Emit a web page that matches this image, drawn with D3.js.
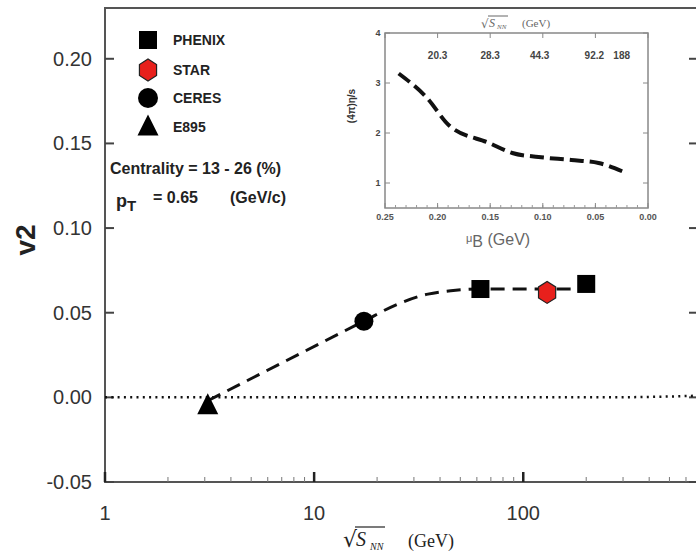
<!DOCTYPE html>
<html>
<head>
	<script src="https://d3js.org/d3.v7.min.js"></script>
	<meta charset="UTF-8">
	<style>
		body{ margin:0; background-color:#ffffff; }
		text{ font-family:"Liberation Sans", Arial, sans-serif; }
	</style>
</head>
<body>
	<script type="text/javascript">
		// main panel data
		var phenix = [[62.4, 0.064], [200, 0.067]];
		var star = [[130, 0.062]];
		var ceres = [[17.3, 0.045]];
		var e895 = [[3.1, -0.005]];
		var fitCurve = [[3.1, -0.002], [17.3, 0.045], [25, 0.055], [35, 0.061], [45, 0.063], [62.4, 0.064], [130, 0.064], [200, 0.064]];
		var zeroLine = [[1, 0], [300, 0], [500, 0.0005], [700, 0.001]];
		var yTicks = [-0.05, 0.00, 0.05, 0.10, 0.15, 0.20];
		var xTicks = [1, 10, 100];

		// inset data
		var etaS = [[0.237, 3.19], [0.210, 2.70], [0.189, 2.15], [0.151, 1.80], [0.129, 1.60], [0.104, 1.52], [0.073, 1.46], [0.047, 1.40], [0.024, 1.23]];
		var insetXTicks = [0.25, 0.20, 0.15, 0.10, 0.05, 0.00];
		var insetYTicks = [1, 2, 3, 4];
		var energyPos = [0.200, 0.150, 0.103, 0.051, 0.025];
		var energyLabels = ["20.3", "28.3", "44.3", "92.2", "188"];

		var legendNames = ["PHENIX", "STAR", "CERES", "E895"];

		var w = 696, h = 556;
		var svg = d3.select("body").append("svg").attr("width", w).attr("height", h);

		var x = d3.scaleLog().domain([1, 700]).range([105, 700]);
		var y = d3.scaleLinear().domain([-0.05, 0.23]).range([482, 8]);

		// frame
		svg.append("rect").attr("x", 105).attr("y", 8).attr("width", 600).attr("height", 474)
			.attr("fill", "none").attr("stroke", "#555").attr("stroke-width", 2);

		// y axis ticks (inward)
		yTicks.forEach(function(t){
			svg.append("line").attr("x1", 105).attr("x2", 114).attr("y1", y(t)).attr("y2", y(t)).attr("stroke", "#444").attr("stroke-width", 2);
			svg.append("line").attr("x1", 689).attr("x2", 700).attr("y1", y(t)).attr("y2", y(t)).attr("stroke", "#444").attr("stroke-width", 2);
			svg.append("text").attr("x", 92).attr("y", y(t) + 7).attr("text-anchor", "end").style("font-size", "20px").attr("fill", "#333").text(t.toFixed(2));
		});

		// x axis ticks
		var minor = [];
		[1, 10, 100].forEach(function(dec){ for(var k = 2; k <= 9; k++){ if(dec * k < 700) minor.push(dec * k); } });
		minor.forEach(function(t){
			svg.append("line").attr("x1", x(t)).attr("x2", x(t)).attr("y1", 482).attr("y2", 477).attr("stroke", "#777").attr("stroke-width", 1);
		});
		xTicks.forEach(function(t){
			svg.append("line").attr("x1", x(t)).attr("x2", x(t)).attr("y1", 482).attr("y2", 472).attr("stroke", "#222").attr("stroke-width", 2.5);
			svg.append("text").attr("x", x(t)).attr("y", 520).attr("text-anchor", "middle").style("font-size", "20px").attr("fill", "#333").text(t);
		});

		// zero dotted line
		var line = d3.line().x(function(d){ return x(d[0]); }).y(function(d){ return y(d[1]); });
		svg.append("path").attr("d", line(zeroLine)).attr("fill", "none").attr("stroke", "#111").attr("stroke-width", 2.5).attr("stroke-dasharray", "2,4.3");

		// dashed fit
		var curve = d3.line().curve(d3.curveMonotoneX).x(function(d){ return x(d[0]); }).y(function(d){ return y(d[1]); });
		svg.append("path").attr("d", curve(fitCurve)).attr("fill", "none").attr("stroke", "#111").attr("stroke-width", 3).attr("stroke-dasharray", "14,8");

		// markers
		function square(g, cx, cy, s){ g.append("rect").attr("x", cx - s/2).attr("y", cy - s/2).attr("width", s).attr("height", s).attr("fill", "#000"); }
		function hexagon(g, cx, cy, r){
			var pts = d3.range(6).map(function(i){ var a = Math.PI / 3 * i + Math.PI / 6; return [cx + r * 0.9 * Math.cos(a), cy + r * Math.sin(a)]; });
			g.append("polygon").attr("points", pts.map(function(p){ return p.join(","); }).join(" ")).attr("fill", "#e8201c").attr("stroke", "#222").attr("stroke-width", 1.2);
		}
		function circle(g, cx, cy, r){ g.append("circle").attr("cx", cx).attr("cy", cy).attr("r", r).attr("fill", "#000"); }
		function triangle(g, cx, cy, s){
			g.append("polygon").attr("points", [[cx, cy - s*0.6], [cx - s/2, cy + s*0.4], [cx + s/2, cy + s*0.4]].map(function(p){ return p.join(","); }).join(" ")).attr("fill", "#000");
		}
		phenix.forEach(function(d){ square(svg, x(d[0]), y(d[1]), 18); });
		star.forEach(function(d){ hexagon(svg, x(d[0]), y(d[1]), 11); });
		ceres.forEach(function(d){ circle(svg, x(d[0]), y(d[1]), 9.5); });
		e895.forEach(function(d){ triangle(svg, x(d[0]), y(d[1]), 21); });

		// legend
		var legY = [40, 70, 98, 127];
		square(svg, 148, legY[0], 18);
		hexagon(svg, 148, legY[1], 11);
		circle(svg, 148, legY[2], 10);
		triangle(svg, 148, legY[3], 21);
		legendNames.forEach(function(n, i){
			svg.append("text").attr("x", 173).attr("y", legY[i] + 5).style("font-size", "14px").style("font-weight", "bold").attr("fill", "#222").text(n);
		});

		svg.append("text").attr("x", 110).attr("y", 174).style("font-size", "16px").style("font-weight", "bold").attr("fill", "#222").text("Centrality = 13 - 26 (%)");
		var pt = svg.append("text").attr("x", 116).attr("y", 207).style("font-size", "18px").style("font-weight", "bold").attr("fill", "#222");
		pt.append("tspan").text("p");
		pt.append("tspan").attr("dy", 4).style("font-size", "15px").text("T");
		pt.append("tspan").attr("x", 153).attr("dy", -8).style("font-size", "16px").text("= 0.65");
		pt.append("tspan").attr("x", 230).style("font-size", "16px").text("(GeV/c)");

		// axis titles
		svg.append("text").attr("transform", "translate(35,240) rotate(-90)").attr("text-anchor", "middle").style("font-size", "28px").style("font-weight", "bold").attr("fill", "#222").text("v2");

		var xt = svg.append("g").attr("fill", "#222").style("font-family", "'Liberation Serif', 'Times New Roman', serif");
		xt.append("text").attr("x", 343).attr("y", 547).style("font-size", "22px").style("font-family", "'DejaVu Serif', serif").text("√");
		xt.append("line").attr("x1", 355).attr("x2", 385).attr("y1", 527).attr("y2", 527).attr("stroke", "#222").attr("stroke-width", 1.2);
		xt.append("text").attr("x", 356).attr("y", 546).style("font-size", "20px").style("font-style", "italic").style("font-family", "'Liberation Serif', serif").text("S");
		xt.append("text").attr("x", 370).attr("y", 550).style("font-size", "10px").style("font-style", "italic").style("font-family", "'Liberation Serif', serif").text("NN");
		xt.append("text").attr("x", 408).attr("y", 547).style("font-size", "18px").style("font-family", "'Liberation Serif', serif").text("(GeV)");

		// inset
		var ix = d3.scaleLinear().domain([0.25, 0]).range([385, 648]);
		var iy = d3.scaleLinear().domain([0.5, 4]).range([208, 33]);
		var ins = svg.append("g");
		ins.append("rect").attr("x", 385).attr("y", 33).attr("width", 263).attr("height", 175).attr("fill", "#fff").attr("stroke", "#888").attr("stroke-width", 1.5);

		d3.range(0, 0.25, 0.01).forEach(function(t){
			ins.append("line").attr("x1", ix(t)).attr("x2", ix(t)).attr("y1", 208).attr("y2", 205).attr("stroke", "#999");
		});
		insetXTicks.forEach(function(t){
			ins.append("line").attr("x1", ix(t)).attr("x2", ix(t)).attr("y1", 208).attr("y2", 203).attr("stroke", "#888");
			ins.append("line").attr("x1", ix(t)).attr("x2", ix(t)).attr("y1", 33).attr("y2", 38).attr("stroke", "#888");
			ins.append("text").attr("x", ix(t)).attr("y", 220).attr("text-anchor", "middle").style("font-size", "9px").style("font-weight", "bold").attr("fill", "#555").text(t.toFixed(2));
		});
		insetYTicks.forEach(function(t){
			ins.append("line").attr("x1", 385).attr("x2", 390).attr("y1", iy(t)).attr("y2", iy(t)).attr("stroke", "#888");
			ins.append("line").attr("x1", 643).attr("x2", 648).attr("y1", iy(t)).attr("y2", iy(t)).attr("stroke", "#888");
			ins.append("text").attr("x", 378).attr("y", iy(t) + 3).attr("text-anchor", "middle").style("font-size", "9px").style("font-weight", "bold").attr("fill", "#444").text(t);
		});
		energyLabels.forEach(function(l, i){
			ins.append("text").attr("x", ix(energyPos[i])).attr("y", 59).attr("text-anchor", "middle").style("font-size", "10px").style("font-weight", "bold").attr("fill", "#444").text(l);
		});

		var iline = d3.line().curve(d3.curveMonotoneX).x(function(d){ return ix(d[0]); }).y(function(d){ return iy(d[1]); });
		ins.append("path").attr("d", iline(etaS)).attr("fill", "none").attr("stroke", "#111").attr("stroke-width", 4).attr("stroke-dasharray", "14,6");

		ins.append("text").attr("transform", "translate(355,106) rotate(-90)").attr("text-anchor", "middle").style("font-size", "10px").style("font-weight", "bold").attr("fill", "#333").text("(4π)η/s");

		var mu = ins.append("text").attr("x", 466).attr("y", 245).attr("fill", "#666").style("font-size", "16px");
		mu.append("tspan").style("font-size", "11px").attr("dy", -3).text("μ");
		mu.append("tspan").attr("dy", 5).text("B");
		mu.append("tspan").attr("dy", -2).text(" (GeV)");

		var it = ins.append("g").attr("fill", "#666");
		it.append("text").attr("x", 481).attr("y", 28).style("font-size", "12px").style("font-family", "'DejaVu Serif', serif").text("√");
		it.append("line").attr("x1", 488).attr("x2", 508).attr("y1", 16).attr("y2", 16).attr("stroke", "#666").attr("stroke-width", 1);
		it.append("text").attr("x", 489).attr("y", 27).style("font-size", "12px").style("font-style", "italic").style("font-family", "'Liberation Serif', serif").text("S");
		it.append("text").attr("x", 497).attr("y", 29).style("font-size", "7px").style("font-style", "italic").style("font-family", "'Liberation Serif', serif").text("NN");
		it.append("text").attr("x", 522).attr("y", 27).style("font-size", "11px").style("font-family", "'Liberation Serif', serif").text("(GeV)");
	</script>
</body>
</html>
